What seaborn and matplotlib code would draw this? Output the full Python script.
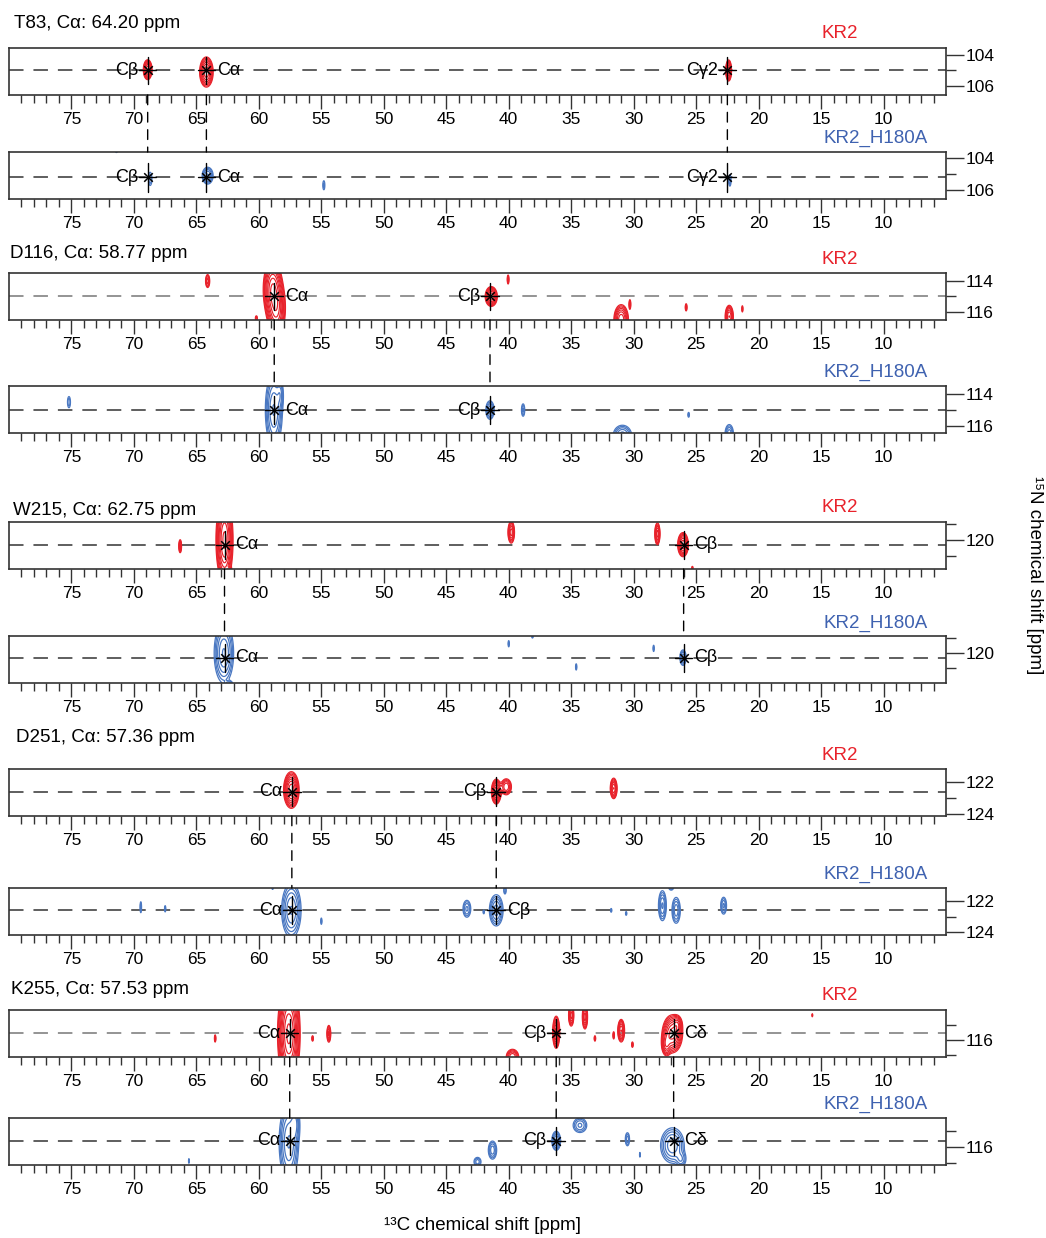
import numpy as np
import matplotlib
matplotlib.use("Agg")
import matplotlib.pyplot as plt
import seaborn as sns
from matplotlib.ticker import FixedLocator
from matplotlib.patches import ConnectionPatch
from matplotlib.transforms import blended_transform_factory

# ---------------------------------------------------------------- data
residues = ["T83", "D116", "W215", "D251", "K255"]
ca_shift = [64.20, 58.77, 62.75, 57.36, 57.53]

# 15N plane of each strip (KR2, KR2_H180A)
n_plane_kr2 = [105.0, 115.0, 120.3, 122.6, 115.55]
n_plane_mut = [105.2, 115.0, 120.3, 122.6, 115.6]

# 15N window of each strip (bottom, top)
n_window_kr2 = [(106.58, 103.55), (116.52, 113.48), (121.87, 118.84), (124.12, 121.19), (117.10, 114.06)]
n_window_mut = [(106.56, 103.62), (116.45, 113.48), (121.94, 118.90), (124.19, 121.16), (117.16, 114.13)]

# assigned carbons of each residue
atom_names = [["Cβ", "Cα", "Cγ2"], ["Cα", "Cβ"], ["Cα", "Cβ"], ["Cα", "Cβ"], ["Cα", "Cβ", "Cδ"]]
atom_shifts = [[68.9, 64.20, 22.5], [58.77, 41.5], [62.75, 26.0], [57.36, 41.0], [57.53, 36.2, 26.8]]
label_side_kr2 = [["L", "R", "L"], ["R", "L"], ["R", "R"], ["L", "L"], ["L", "L", "R"]]
label_side_mut = [["L", "R", "L"], ["R", "L"], ["R", "R"], ["L", "R"], ["L", "L", "R"]]

# cross peaks: (13C ppm, 15N ppm, width C, width N, intensity)
t83_kr2 = [(68.9, 104.95, 0.18, 0.33, 1.0), (64.2, 105.1, 0.28, 0.50, 1.0),
           (22.4, 105.0, 0.12, 0.35, 1.0)]
t83_mut = [(71.4, 103.55, 0.08, 0.10, 0.25), (68.7, 105.3, 0.12, 0.35, 0.30),
           (64.1, 105.1, 0.25, 0.30, 0.70), (54.8, 105.7, 0.08, 0.28, 0.25),
           (22.3, 105.4, 0.08, 0.30, 0.30)]
d116_kr2 = [(64.1, 114.0, 0.12, 0.30, 0.40), (60.2, 116.4, 0.08, 0.15, 0.25),
            (58.9, 114.5, 0.36, 0.90, 1.30), (58.6, 115.8, 0.36, 0.90, 1.10),
            (41.4, 115.0, 0.25, 0.33, 1.00), (40.05, 113.9, 0.06, 0.25, 0.30),
            (31.0, 116.5, 0.30, 0.50, 1.00), (30.3, 115.5, 0.06, 0.25, 0.30),
            (25.8, 115.7, 0.06, 0.20, 0.30), (22.35, 116.3, 0.18, 0.40, 0.80),
            (21.3, 115.8, 0.05, 0.20, 0.25)]
d116_mut = [(75.2, 114.5, 0.10, 0.30, 0.30), (58.8, 115.0, 0.35, 1.20, 1.00),
            (58.3, 114.0, 0.15, 0.50, 0.40), (41.5, 115.0, 0.20, 0.35, 0.60),
            (38.85, 115.0, 0.10, 0.30, 0.35), (30.9, 116.6, 0.40, 0.35, 0.80),
            (25.6, 115.3, 0.06, 0.15, 0.25), (22.35, 116.5, 0.20, 0.35, 0.60)]
w215_kr2 = [(66.3, 120.4, 0.08, 0.30, 0.40), (62.75, 120.0, 0.32, 1.30, 1.50),
            (62.4, 121.9, 0.12, 0.10, 0.30), (39.8, 119.5, 0.15, 0.40, 0.70),
            (28.1, 119.6, 0.12, 0.40, 0.70), (26.05, 120.3, 0.22, 0.40, 1.00),
            (25.3, 121.8, 0.05, 0.10, 0.25)]
w215_mut = [(62.8, 120.0, 0.40, 1.00, 1.00), (62.4, 121.95, 0.20, 0.10, 0.30),
            (40.0, 119.4, 0.05, 0.20, 0.25), (38.1, 118.95, 0.05, 0.08, 0.25),
            (34.6, 120.9, 0.05, 0.20, 0.25), (28.4, 119.7, 0.05, 0.20, 0.25),
            (26.05, 120.3, 0.15, 0.30, 0.60)]
d251_kr2 = [(57.4, 122.5, 0.30, 0.55, 1.30), (41.0, 122.6, 0.20, 0.40, 1.00),
            (40.2, 122.3, 0.25, 0.30, 0.60), (31.6, 122.4, 0.15, 0.35, 0.80)]
d251_mut = [(69.45, 122.4, 0.05, 0.30, 0.30), (67.5, 122.5, 0.05, 0.20, 0.25),
            (58.9, 121.15, 0.05, 0.10, 0.25), (57.4, 122.6, 0.40, 0.90, 1.00),
            (55.0, 123.3, 0.05, 0.20, 0.25), (43.35, 122.5, 0.20, 0.35, 0.50),
            (42.0, 122.7, 0.05, 0.12, 0.25), (41.0, 122.6, 0.30, 0.55, 0.80),
            (40.3, 121.3, 0.08, 0.20, 0.30), (31.8, 122.6, 0.05, 0.12, 0.25),
            (30.6, 122.8, 0.05, 0.12, 0.25), (27.7, 122.3, 0.18, 0.55, 0.70),
            (27.0, 121.1, 0.15, 0.15, 0.35), (26.6, 122.6, 0.20, 0.50, 0.60),
            (22.8, 122.3, 0.15, 0.35, 0.50)]
k255_kr2 = [(63.5, 115.9, 0.05, 0.20, 0.30), (57.6, 115.6, 0.40, 1.50, 2.00),
            (55.7, 115.9, 0.05, 0.15, 0.30), (54.4, 115.6, 0.10, 0.35, 0.50),
            (39.7, 117.1, 0.30, 0.30, 0.60), (36.2, 115.5, 0.15, 0.55, 0.90),
            (35.0, 114.4, 0.12, 0.40, 0.70), (33.9, 114.5, 0.12, 0.45, 0.70),
            (33.1, 115.9, 0.05, 0.15, 0.30), (31.6, 115.7, 0.05, 0.20, 0.30),
            (31.0, 115.4, 0.15, 0.40, 0.80), (30.1, 116.3, 0.05, 0.15, 0.30),
            (26.9, 115.6, 0.40, 0.60, 1.20), (27.4, 116.3, 0.20, 0.40, 0.60),
            (26.5, 115.0, 0.20, 0.30, 0.50), (15.7, 114.4, 0.03, 0.10, 0.25)]
k255_mut = [(65.6, 116.9, 0.03, 0.15, 0.25), (57.6, 115.7, 0.40, 1.30, 1.00),
            (57.1, 114.5, 0.20, 0.60, 0.60), (42.5, 116.95, 0.20, 0.20, 0.40),
            (41.3, 116.2, 0.20, 0.35, 0.60), (36.2, 115.6, 0.20, 0.35, 0.70),
            (34.3, 114.6, 0.35, 0.30, 0.50), (30.5, 115.5, 0.12, 0.30, 0.40),
            (29.5, 116.5, 0.03, 0.15, 0.25), (26.9, 115.9, 0.50, 0.60, 0.90),
            (26.2, 116.8, 0.25, 0.30, 0.40)]

peaks_kr2 = [t83_kr2, d116_kr2, w215_kr2, d251_kr2, k255_kr2]
peaks_mut = [t83_mut, d116_mut, w215_mut, d251_mut, k255_mut]

# ---------------------------------------------------------------- style
sns.set_theme(style="ticks")
plt.rcParams["font.family"] = ["Liberation Sans", "DejaVu Sans"]
plt.rcParams["xtick.labelcolor"] = "black"
plt.rcParams["ytick.labelcolor"] = "black"
plt.rcParams["text.color"] = "black"

RED = "#e8222b"
BLUE = "#4a78c2"
LABEL_BLUE = "#3f62b0"
FRAME = "#333333"

W, H = 1046, 1238
fig = plt.figure(figsize=(W / 100, H / 100), dpi=100)

strip_tops = [48, 152, 273, 386, 522, 636, 769, 888, 1010, 1118]
strip_h = 47
x_left, x_right = 9, 946

c_grid = np.linspace(81.0, 4.0, 3851)


def gauss(v, v0, w):
    return np.exp(-0.5 * ((v - v0) / w) ** 2)


def make_strip(top_px):
    return fig.add_axes([x_left / W, 1 - (top_px + strip_h) / H,
                         (x_right - x_left) / W, strip_h / H])


def draw_strip(ax, peaks, window, n_plane, names, shifts, sides, color, levels, lw, dash_color):
    lo, hi = window
    n_grid = np.linspace(hi - 0.6, lo + 0.6, 361)
    z = np.zeros((n_grid.size, c_grid.size))
    for c0, n0, wc, wn, h in peaks:
        z += h * np.outer(gauss(n_grid, n0, wn), gauss(c_grid, c0, wc))
    ax.axhline(n_plane, color=dash_color, lw=1.1, dashes=(9.5, 6.5), zorder=1)
    ax.contour(c_grid, n_grid, z, levels=levels, colors=color, linewidths=lw, zorder=2)

    # assignment crosshairs
    for name, c, side in zip(names, shifts, sides):
        ax.plot([c + 0.7, c - 0.7], [n_plane, n_plane], color="black", lw=1.0, zorder=3)
        ax.plot([c, c], [n_plane - 0.9, n_plane + 0.9], color="black", lw=1.0, zorder=3)
        if side == "L":
            ax.text(c + 0.75, n_plane, name, ha="right", va="center", fontsize=13,
                    color="black", zorder=4)
        else:
            ax.text(c - 0.85, n_plane, name, ha="left", va="center", fontsize=13,
                    color="black", zorder=4)
    sns.scatterplot(x=shifts, y=[n_plane] * len(shifts), marker="x", color="black",
                    s=38, linewidth=1.1, ax=ax, legend=False, zorder=5)

    ax.set_xlim(80.0, 5.0)
    ax.set_ylim(lo, hi)
    ax.xaxis.set_major_locator(FixedLocator(np.arange(10, 80, 5)))
    ax.xaxis.set_minor_locator(FixedLocator(np.arange(6, 80, 1)))
    ax.yaxis.set_major_locator(FixedLocator(np.arange(100, 130, 2)))
    ax.yaxis.set_minor_locator(FixedLocator(np.arange(100, 130, 1)))
    ax.yaxis.tick_right()
    ax.tick_params(axis="x", which="major", direction="out", length=10, width=1.0,
                   labelsize=12.5, pad=2, color=FRAME, labelcolor="black")
    ax.tick_params(axis="x", which="minor", direction="out", length=6, width=1.0, color=FRAME)
    ax.tick_params(axis="y", which="major", direction="out", length=13, width=1.0,
                   labelsize=12.5, pad=1, color=FRAME, labelcolor="black")
    ax.tick_params(axis="y", which="minor", direction="out", length=7, width=1.0, color=FRAME)
    ax.set_xlabel("")
    ax.set_ylabel("")
    for s in ax.spines.values():
        s.set_visible(True)
        s.set_color(FRAME)
        s.set_linewidth(1.2)


red_levels = 0.15 * 1.32 ** np.arange(16)
blue_levels = 0.15 * 1.45 ** np.arange(12)

title_pos = [(14, 24), (10, 253), (13, 510), (16, 738), (11, 990)]
kr2_label_y = [33, 259, 507, 755, 996]
mut_label_y = [138, 372, 623, 874, 1104]
dash_grey = ["#333333", "#777777", "#333333", "#333333", "#777777"]

for i, res in enumerate(residues):
    ax_a = make_strip(strip_tops[2 * i])
    ax_b = make_strip(strip_tops[2 * i + 1])
    draw_strip(ax_a, peaks_kr2[i], n_window_kr2[i], n_plane_kr2[i], atom_names[i],
               atom_shifts[i], label_side_kr2[i], RED, red_levels, 0.85, dash_grey[i])
    draw_strip(ax_b, peaks_mut[i], n_window_mut[i], n_plane_mut[i], atom_names[i],
               atom_shifts[i], label_side_mut[i], BLUE, blue_levels, 0.9, "#333333")

    # connectors between the two strips
    for c in atom_shifts[i]:
        con = ConnectionPatch(xyA=(c, 0.0), coordsA=blended_transform_factory(ax_a.transData, ax_a.transAxes),
                              xyB=(c, 1.0), coordsB=blended_transform_factory(ax_b.transData, ax_b.transAxes),
                              color="black", lw=1.0, linestyle=(0, (7, 5.5)), zorder=6)
        fig.add_artist(con)

    tx, ty = title_pos[i]
    fig.text(tx / W, 1 - ty / H, f"{res}, Cα: {ca_shift[i]:.2f} ppm", ha="left", va="center",
             fontsize=13.5, color="black")
    fig.text(840 / W, 1 - kr2_label_y[i] / H, "KR2", ha="center", va="center",
             fontsize=13.5, color=RED)
    fig.text(876 / W, 1 - mut_label_y[i] / H, "KR2_H180A", ha="center", va="center",
             fontsize=13.5, color=LABEL_BLUE)

fig.text(483 / W, 1 - 1226 / H, "¹³C chemical shift [ppm]", ha="center", va="center",
         fontsize=13.5, color="black")
fig.text(1035 / W, 1 - 575 / H, "¹⁵N chemical shift [ppm]", ha="center", va="center",
         rotation=270, fontsize=13.5, color="black")

fig.savefig("out.png", dpi=100, facecolor="white")
